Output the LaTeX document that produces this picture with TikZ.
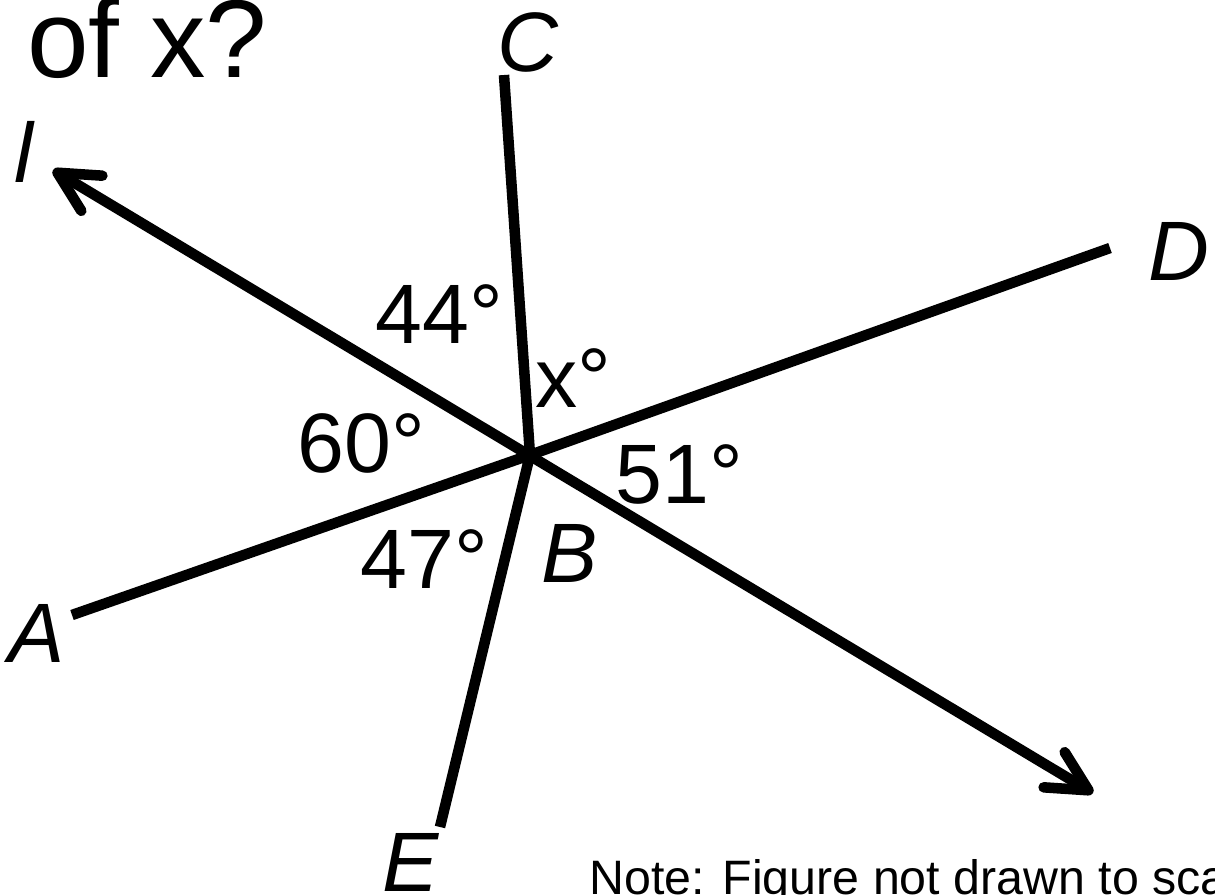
\documentclass[tikz,border=0pt]{standalone}
\usepackage{fontspec}
\setmainfont{Liberation Sans}
\usetikzlibrary{arrows.meta}
\tikzset{
  every picture/.style={line join=round},
  ray/.style={line width=6pt, line cap=butt},
  barb/.tip={Straight Barb[length=0.8cm, width=0.82cm, round]},
  lbl/.style={font=\fontsize{48}{48}\selectfont, inner sep=0pt, anchor=base west},
}

\begin{document}
\begin{tikzpicture}[x=0.02cm,y=-0.02cm]
\useasboundingbox (0,0) rectangle (1215,894);
\clip (0,0) rectangle (1215,894);
% points of the figure
\coordinate (B) at (530,455);
\coordinate (C) at (504,75);
\coordinate (D) at (1110,248);
\coordinate (A) at (72,615);
\coordinate (E) at (440,827);
\coordinate (l1) at (53,170);
\coordinate (l2) at (1093,793);
% rays from B and the line l
\draw[ray] (A)--(B)--(D) (C)--(B)--(E);
\draw[ray,barb-barb] (l1)--(l2);
% labels
\node[lbl,font=\fontsize{63}{63}\selectfont] (ask) at (27,77) {of x?};
\node[lbl] (Cl) at (497,71) {\textit{C}};
\node[lbl] (ll) at (14,182) {\textit{l}};
\node[lbl] (Dl) at (1148,280) {\textit{D}};
\node[lbl] (Al) at (8,662) {\textit{A}};
\node[lbl] (Bl) at (541,582) {\textit{B}};
\node[lbl] (El) at (382,891) {\textit{E}};
\node[lbl] (a44) at (375,343) {44°};
\node[lbl] (ax) at (535,407) {x°};
\node[lbl] (a60) at (297,472) {60°};
\node[lbl] (a51) at (615,503) {51°};
\node[lbl] (a47) at (360,588) {47°};
\node[lbl,font=\fontsize{27.5}{27.5}\selectfont] (note) at (589,894) {Note: Figure not drawn to scale};
\end{tikzpicture}
\end{document}
